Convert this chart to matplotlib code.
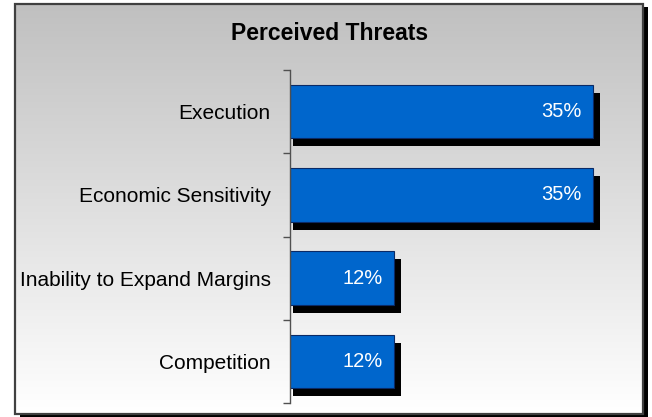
import numpy as np
import matplotlib.pyplot as plt
from matplotlib.patches import Rectangle
from matplotlib.colors import LinearSegmentedColormap
from matplotlib.transforms import offset_copy

plt.rcParams['font.family'] = ['Liberation Sans', 'DejaVu Sans']

categories = ['Execution', 'Economic Sensitivity', 'Inability to Expand Margins', 'Competition']
values = [35, 35, 12, 12]
labels = ['35%', '35%', '12%', '12%']
title = 'Perceived Threats'

W, H = 652, 417
fig = plt.figure(figsize=(W / 100, H / 100), dpi=100)
fig.patch.set_facecolor('white')

# background axes in pixel coords: shadow, gradient, frame
bg = fig.add_axes([0, 0, 1, 1], zorder=-5)
fx0, fy0, fx1, fy1 = 15, 4, 643, 414
bg.add_patch(Rectangle((fx0 + 5, fy0 + 3), fx1 - fx0, fy1 - fy0, facecolor='black', edgecolor='none', zorder=0))
grad = np.linspace(0, 1, 256).reshape(-1, 1)
bg.imshow(grad, cmap=LinearSegmentedColormap.from_list('g', ['#c0c0c0', '#ffffff']),
          aspect='auto', extent=[fx0, fx1, fy1, fy0], origin='upper', zorder=1)
bg.add_patch(Rectangle((fx0, fy0), fx1 - fx0, fy1 - fy0, facecolor='none', edgecolor='#404040',
                       linewidth=1.6, zorder=2))
bg.set_xlim(0, W)
bg.set_ylim(H, 0)
bg.axis('off')

# main axes
ax = fig.add_axes([290 / W, 1 - 403 / H, 330 / W, (403 - 70) / H], zorder=1)
ax.patch.set_alpha(0)
ypos = np.arange(len(categories))
bar_h = 0.64
xmax = 38.1
px = xmax / 330  # data units per pixel

shadow_tr = offset_copy(ax.transData, fig=fig, x=7, y=-8, units='dots')
ax.barh(ypos, np.array(values) + 4 * px, height=bar_h, left=-4 * px, color='black',
        transform=shadow_tr, zorder=1)
ax.barh(ypos, values, height=bar_h, color='#0066cc', edgecolor='#0a2a66', linewidth=0.8, zorder=2)

for y, v, t in zip(ypos, values, labels):
    ax.annotate(t, (v, y), xytext=(-8, 0), textcoords='offset points', ha='right', va='center',
                color='white', fontsize=14.5, zorder=3)

ax.set_xlim(0, xmax)
ax.set_ylim(len(categories) - 0.5, -0.5)
ax.set_yticks(ypos)
ax.set_yticklabels(categories, fontsize=15)
ax.set_yticks(np.arange(len(categories) + 1) - 0.5, minor=True)
ax.tick_params(axis='y', which='major', length=0, pad=14)
ax.tick_params(axis='y', which='minor', length=5, direction='out', color='#505050', width=1)
ax.set_xticks([])
for side in ['top', 'right', 'bottom']:
    ax.spines[side].set_visible(False)
ax.spines['left'].set_color('#505050')
ax.spines['left'].set_linewidth(1)

fig.text(330 / W, 1 - 33 / H, title, ha='center', va='center', fontsize=16.5, fontweight='bold')

fig.savefig('out.png', dpi=100)
